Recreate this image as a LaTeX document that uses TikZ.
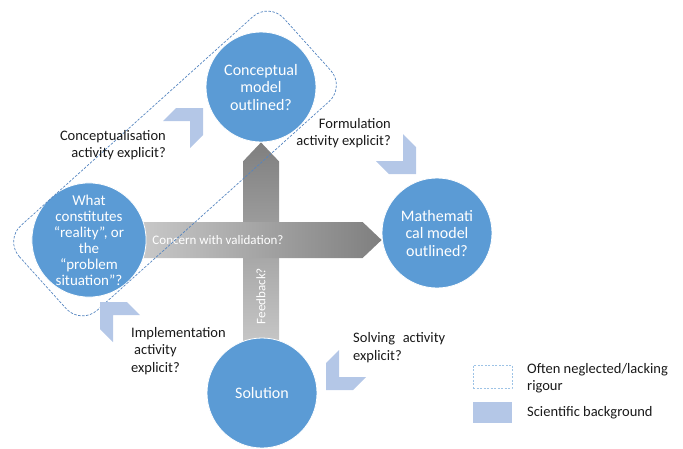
\documentclass[tikz,border=0pt]{standalone}
\usepackage{fontspec}
\setmainfont{Carlito}
\usetikzlibrary{calc,backgrounds}

\definecolor{circblue}{HTML}{5B9BD5}
\definecolor{chevblue}{HTML}{B4C7E7}
\definecolor{dashblue}{HTML}{5585C0}
\definecolor{legdash}{HTML}{9DC3E6}
\definecolor{arrowdark}{HTML}{7F7F7F}
\definecolor{arrowlight}{HTML}{D8D8D8}

\newcommand{\chev}[2]{%
  \begin{scope}[shift={#1}, #2]
 \fill [chevblue] (0,0) -- (0,27) -- (-13,40) -- (-13,13) -- (-40,13) -- (-27,0) -- cycle;
\end{scope}}

\begin{document}
\begin{tikzpicture}[x=1pt, y=-1pt,
  bubble/.style={circle, fill=circblue, draw=white, line width=0.8pt, minimum size=110pt, inner sep=0pt, text=white, align=center, font=\fontsize{16}{17.5}\selectfont},
  remark/.style={font=\fontsize{14.5}{17.5}\selectfont, text=black!90, inner sep=0pt},
  onarrow/.style={text=white, font=\fontsize{13}{15}\selectfont, inner sep=0pt}]
\useasboundingbox (0,0) rectangle (683,448);

\node[bubble] (concept) at (261,87) {Conceptual\\model\\outlined?};
\node[bubble, font=\fontsize{15}{16}\selectfont] (reality) at (89,240) {What\\constitutes\\“reality”, or\\the\\“problem\\situation”?};
\node[bubble] (mathmod) at (437,233) {Mathemati\\cal model\\outlined?};
\node[bubble] (solution) at (262,393) {Solution};

%\draw [red] (concept) -- (solution);
\coordinate (vtip) at (concept.south);
\coordinate (htip) at (mathmod.west |- reality.center);
\begin{scope}[on background layer]
\shade[top color=arrowdark, bottom color=arrowlight] ($(vtip)+(-18,19)$) -- (vtip) -- ($(vtip)+(18,19)$) -- ($(vtip |- solution.center)+(18,0)$) -- ($(vtip |- solution.center)+(-18,0)$) -- cycle;
\shade[left color=arrowlight, right color=arrowdark] ($(reality.center)+(0,-18)$) -- ($(htip)+(-19,-18)$) -- (htip) -- ($(htip)+(-19,18)$) -- ($(reality.center)+(0,18)$) -- cycle;
\end{scope}
\node[onarrow] (validtext) at (218,240) {Concern with validation?};
\node[onarrow, rotate=90] (feedtext) at (261,296) {Feedback?};

\draw[dashblue, line width=0.7pt, dash pattern=on 2.5pt off 1.5pt, rounded corners=22pt, shift={($(concept)!0.5!(reality)$)}, rotate=42] (-178,-57) rectangle (178,57);

\chev{(203,108)}{}
\chev{(416,174)}{yscale=-1}
\chev{(326,390)}{xscale=-1, yscale=-1}
\chev{(100,302)}{xscale=-1}

\node[remark, anchor=east, align=right] (conclabel) at (166,145) {Conceptualisation\\activity explicit?};
\node[remark, anchor=east, align=right] (formlabel) at (391,133) {Formulation\\activity explicit?};
\node[remark, anchor=west, align=left] (implabel) at (131,351) {Implementation\\\hspace{3pt}activity\\explicit?};
\node[remark, anchor=west, align=left] (solvlabel) at (353,347.5) {Solving\hspace{0.3em} activity\\explicit?};

\node[draw=legdash, dash pattern=on 2pt off 1.5pt, line width=0.8pt, minimum width=39pt, minimum height=23pt, inner sep=0pt] (legneglect) at (492.5,376.5) {};
\node[fill=chevblue, minimum width=39pt, minimum height=21pt, inner sep=0pt] (legscience) at (492.5,412.5) {};
\node[remark, anchor=west, align=left] (legneglecttext) at (527,378) {Often neglected/lacking\\rigour};
\node[remark, anchor=west] (legsciencetext) at (527,413) {Scientific background};

\end{tikzpicture}
\end{document}
